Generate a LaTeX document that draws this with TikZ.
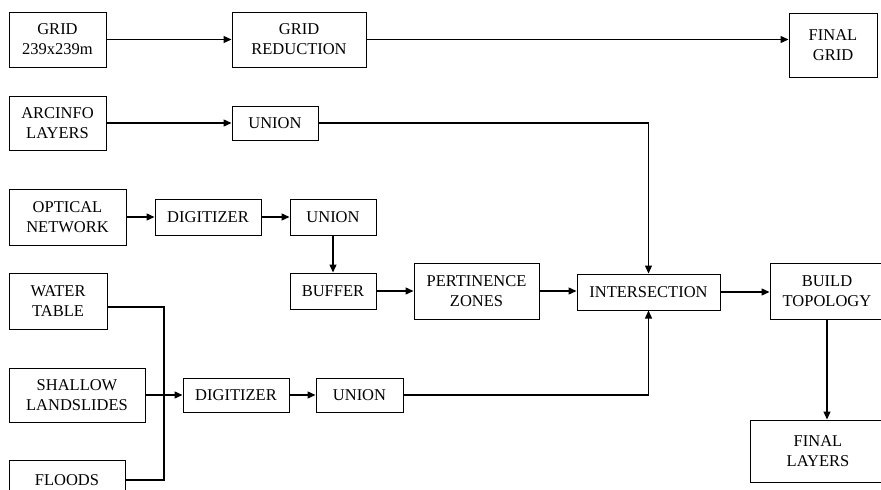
\documentclass[tikz,border=0pt]{standalone}
\usepackage{fontspec}
\setmainfont{Liberation Serif}
\usetikzlibrary{arrows.meta}
\begin{document}
\begin{tikzpicture}[x=1pt,y=-1pt,
  box/.style={draw,line width=1pt,inner sep=0pt,align=center,font=\fontsize{16.5}{20}\selectfont},
  conn/.style={line width=1.3pt},
  arr/.style={conn,-{Triangle[length=8pt,width=7pt]}}]
\clip (0,0) rectangle (881,490);
\node[box,minimum width=97pt,minimum height=55pt] (grid) at (57.5,39.5) {GRID\\239x239m};
\node[box,minimum width=134pt,minimum height=55pt] (gridred) at (299,39.5) {GRID\\REDUCTION};
\node[box,minimum width=88pt,minimum height=64pt] (finalgrid) at (833,45) {FINAL\\GRID};
\node[box,minimum width=97pt,minimum height=54pt] (arcinfo) at (57.5,123) {ARCINFO\\LAYERS};
\node[box,minimum width=86pt,minimum height=34pt] (unionA) at (275,123) {UNION};
\node[box,minimum width=117pt,minimum height=56pt] (optical) at (67.5,217) {OPTICAL\\NETWORK};
\node[box,minimum width=106pt,minimum height=36pt] (digA) at (208,217) {DIGITIZER};
\node[box,minimum width=86pt,minimum height=36pt] (unionB) at (333,217) {UNION};
\node[box,minimum width=86pt,minimum height=36pt] (buffer) at (333,291) {BUFFER};
\node[box,minimum width=125pt,minimum height=56pt] (pert) at (476.5,291) {PERTINENCE\\ZONES};
\node[box,minimum width=143pt,minimum height=36pt] (inter) at (648.5,292) {INTERSECTION};
\node[box,minimum width=114pt,minimum height=56pt] (build) at (827,291) {BUILD\\TOPOLOGY};
\node[box,minimum width=136pt,minimum height=62pt] (finallay) at (818,451) {FINAL\\LAYERS};
\node[box,minimum width=98pt,minimum height=56pt] (water) at (58,301) {WATER\\TABLE};
\node[box,minimum width=136pt,minimum height=54pt] (shallow) at (77,395) {SHALLOW\\LANDSLIDES};
\node[box,minimum width=106pt,minimum height=34pt] (digB) at (236,395) {DIGITIZER};
\node[box,minimum width=87pt,minimum height=34pt] (unionC) at (359.5,395) {UNION};
\node[box,minimum width=116pt,minimum height=40pt] (floods) at (67,480) {FLOODS};
\coordinate (junc) at (164,395);
% connectors
\draw[arr] (grid) -- (gridred);
\draw[arr] (gridred.east) -- (gridred.east -| finalgrid.west);
\draw[arr] (arcinfo) -- (unionA);
\draw[arr] (unionA.east) -| (inter.north);
\draw[arr] (optical) -- (digA);
\draw[arr] (digA) -- (unionB);
\draw[arr] (unionB) -- (buffer);
\draw[arr] (buffer) -- (pert);
\draw[arr] (pert.east) -- (pert.east -| inter.west);
\draw[arr] (inter.east) -- (inter.east -| build.west);
\draw[arr] (build.south) -- (build.south |- finallay.north);
\draw[conn] ([yshift=-6pt]water.east) -| (junc);
\draw[conn] (floods.east) -| (junc);
\draw[arr] (shallow) -- (digB);
\draw[arr] (digB) -- (unionC);
\draw[arr] (unionC.east) -| (inter.south);
\end{tikzpicture}
\end{document}
